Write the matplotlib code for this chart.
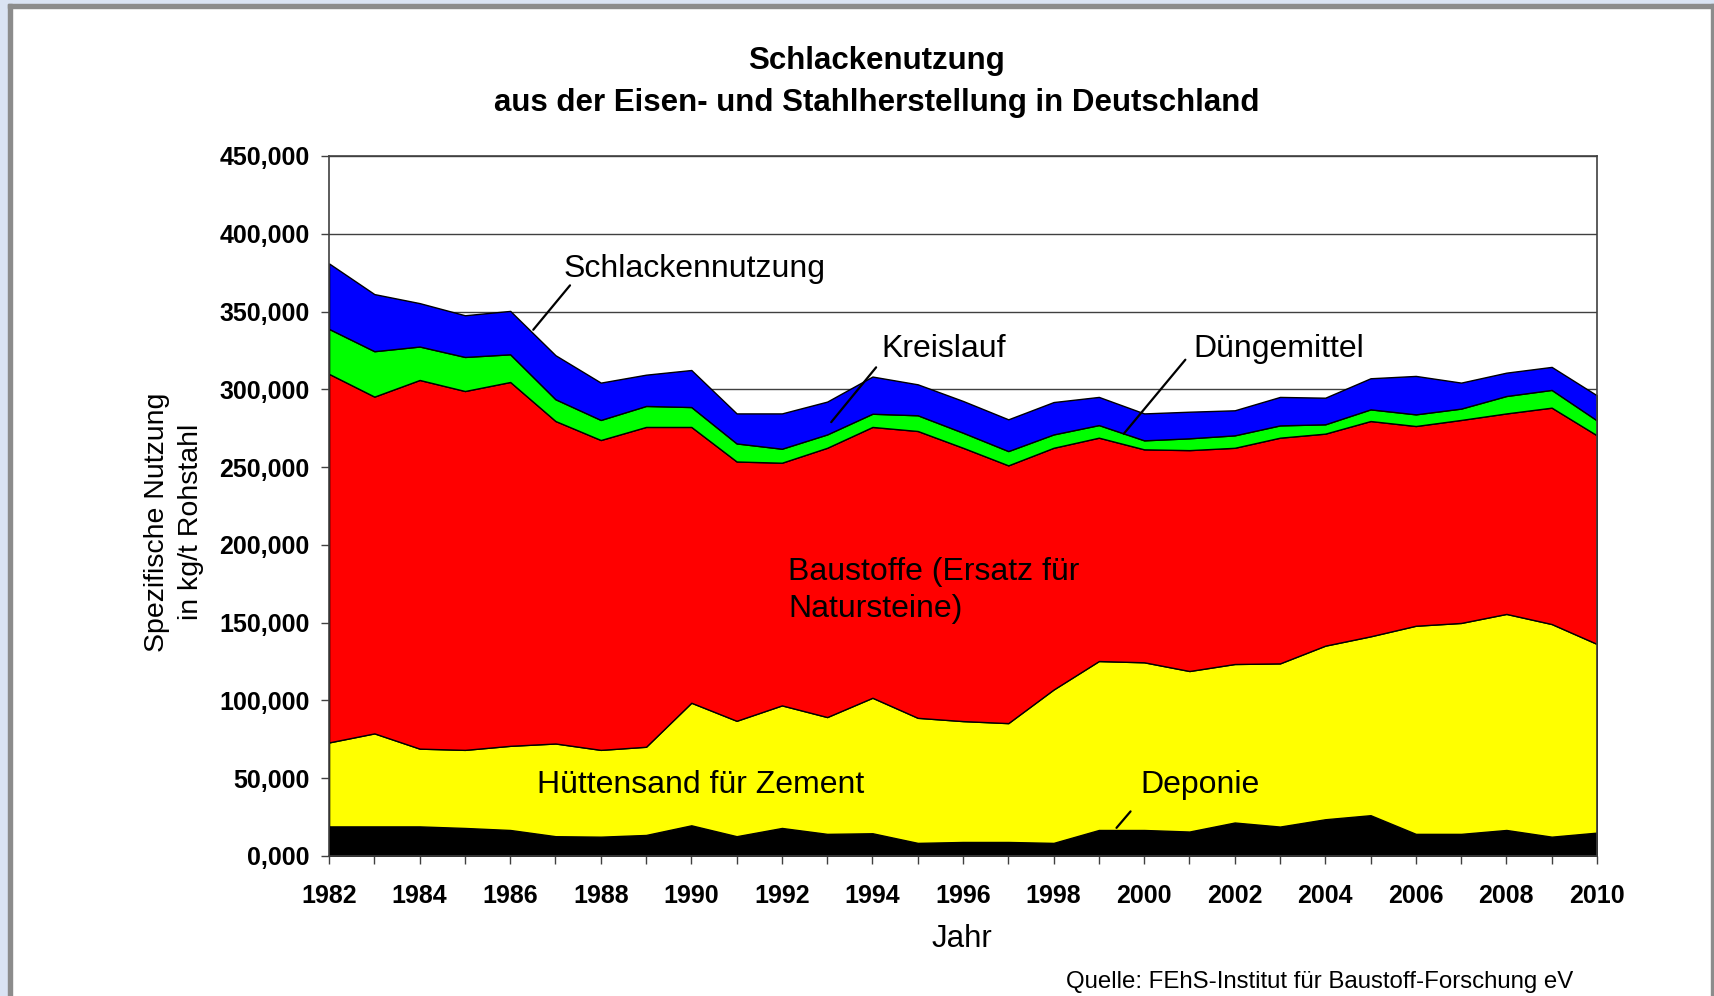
import matplotlib
matplotlib.use("Agg")
import matplotlib.pyplot as plt
from matplotlib.patches import Rectangle

# Spezifische Nutzung in kg/t Rohstahl, je Nutzungsart (gestapelt)
years = list(range(1982, 2011))
deponie = [19.0, 19.0, 19.0, 18.0, 16.7, 12.7, 12.4, 13.5, 19.7, 12.7, 18.0, 14.2, 14.6, 8.4, 9.0,
           9.0, 8.4, 16.7, 16.7, 15.7, 21.5, 18.9, 23.6, 26.2, 14.2, 14.2, 16.7, 12.4, 15.0]
huettensand = [54.0, 59.8, 50.0, 50.2, 54.1, 59.6, 55.8, 56.7, 78.8, 74.2, 78.8, 75.1, 87.1, 80.4, 77.7,
               76.4, 98.6, 108.6, 107.8, 103.2, 101.9, 104.9, 111.6, 115.0, 133.8, 135.6, 138.9, 136.7, 121.3]
baustoffe = [236.9, 216.5, 237.0, 230.7, 233.9, 207.3, 199.2, 205.6, 177.3, 166.7, 156.0, 173.1, 174.1, 184.4, 175.7,
             165.7, 155.4, 143.6, 136.9, 142.0, 139.0, 145.1, 136.3, 138.4, 128.4, 130.5, 128.9, 139.1, 134.1]
duenger = [28.9, 29.2, 21.5, 21.9, 17.8, 14.0, 12.9, 13.5, 12.8, 11.6, 9.0, 8.6, 8.5, 10.1, 9.7,
           9.2, 8.6, 8.1, 5.8, 7.6, 8.0, 7.9, 6.0, 7.5, 7.5, 7.3, 11.2, 11.4, 9.6]
kreislauf = [42.1, 36.7, 27.9, 26.8, 27.9, 28.3, 24.0, 20.1, 23.8, 19.3, 22.7, 21.1, 23.9, 19.9, 20.4,
             20.4, 20.8, 18.1, 17.3, 17.1, 16.1, 18.3, 17.1, 20.0, 24.7, 16.7, 15.0, 14.8, 16.1]

colors = ["#000000", "#ffff00", "#ff0000", "#00ff00", "#0000ff"]
yticks = [0, 50, 100, 150, 200, 250, 300, 350, 400, 450]
ytick_labels = [f"{v:.3f}".replace(".", ",") for v in yticks]
xtick_labels = [str(y) if y % 2 == 0 else "" for y in years]

plt.rcParams["font.family"] = ["Liberation Sans", "DejaVu Sans"]

fig = plt.figure(figsize=(17.14, 9.96), dpi=100)
fig.patch.set_facecolor("white")

# Rahmen wie im Screenshot
fig.patches.append(Rectangle((0, 0), 8 / 1714, 1, transform=fig.transFigure, color="#dae3f3", zorder=0))
fig.patches.append(Rectangle((0, 1 - 4 / 996), 1, 4 / 996, transform=fig.transFigure, color="#dae3f3", zorder=0))
fig.patches.append(Rectangle((8 / 1714, 0), 4 / 1714, 1 - 4 / 996, transform=fig.transFigure, color="#8c8c8c", zorder=0))
fig.patches.append(Rectangle((8 / 1714, 1 - 8 / 996), 1, 4 / 996, transform=fig.transFigure, color="#8c8c8c", zorder=0))
fig.patches.append(Rectangle((1 - 3 / 1714, 0), 3 / 1714, 1 - 4 / 996, transform=fig.transFigure, color="#8c8c8c", zorder=0))

ax = fig.add_axes([0.192, 0.1406, 0.7397, 0.7028])
ax.set_axisbelow(True)
ax.stackplot(years, deponie, huettensand, baustoffe, duenger, kreislauf,
             colors=colors, edgecolor="black", linewidth=1.0)

ax.set_xlim(1982, 2010)
ax.set_ylim(0, 450)
ax.set_yticks(yticks)
ax.set_yticklabels(ytick_labels, fontsize=18, fontweight="bold")
ax.set_xticks(years)
ax.set_xticklabels(xtick_labels, fontsize=18, fontweight="bold")
ax.tick_params(axis="y", direction="out", length=6, width=1, color="#404040", pad=8)
ax.tick_params(axis="x", direction="out", length=6, width=1, color="#404040", pad=14)
ax.grid(axis="y", color="#404040", linewidth=1.0)
for s in ax.spines.values():
    s.set_color("#404040")
    s.set_linewidth(1.2)

# Beschriftungen in der Grafik
ann = dict(fontsize=23, color="black")
ax.text(1987.17, 377.5, "Schlackennutzung", ha="left", va="center", **ann)
ax.annotate("", xy=(1986.47, 336.9), xytext=(1987.36, 368.2),
            arrowprops=dict(arrowstyle="-", color="black", lw=1.6))
ax.text(1994.19, 325.7, "Kreislauf", ha="left", va="center", **ann)
ax.annotate("", xy=(1993.05, 277.5), xytext=(1994.12, 315.5),
            arrowprops=dict(arrowstyle="-", color="black", lw=1.6))
ax.text(2001.09, 325.7, "Düngemittel", ha="left", va="center", **ann)
ax.annotate("", xy=(1999.51, 270.0), xytext=(2000.95, 320.4),
            arrowprops=dict(arrowstyle="-", color="black", lw=1.6))
ax.text(1992.14, 170.5, "Baustoffe (Ersatz für\nNatursteine)", ha="left", va="center",
        linespacing=1.32, **ann)
ax.text(1986.59, 45.6, "Hüttensand für Zement", ha="left", va="center", **ann)
ax.text(1999.91, 45.6, "Deponie", ha="left", va="center", **ann)
ax.annotate("", xy=(1999.35, 16.7), xytext=(1999.74, 30.0),
            arrowprops=dict(arrowstyle="-", color="black", lw=1.6))

fig.text(0.5115, 0.939, "Schlackenutzung", ha="center", va="center", fontsize=22.5, fontweight="bold")
fig.text(0.5115, 0.897, "aus der Eisen- und Stahlherstellung in Deutschland", ha="center", va="center",
         fontsize=22.5, fontweight="bold")
fig.text(0.1015, 0.476, "Spezifische Nutzung\nin kg/t Rohstahl", ha="center", va="center",
         rotation=90, fontsize=20.5, linespacing=1.4)
fig.text(0.561, 0.057, "Jahr", ha="center", va="center", fontsize=22.5)
fig.text(0.622, 0.0145, "Quelle: FEhS-Institut für Baustoff-Forschung eV", ha="left", va="center",
         fontsize=17.3)

fig.savefig("out.png", dpi=100)
